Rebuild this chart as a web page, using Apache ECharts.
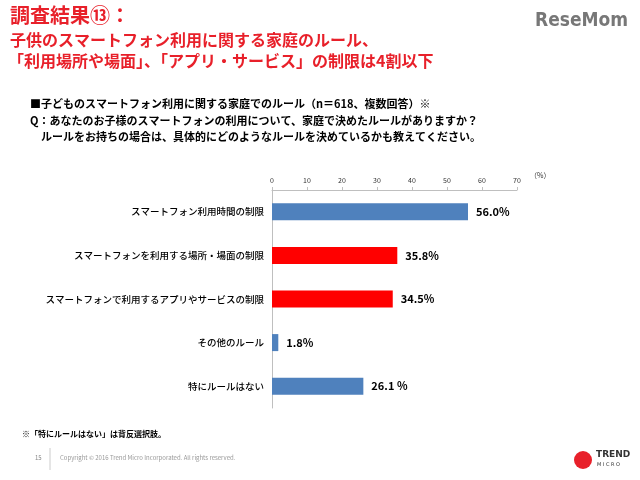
<!DOCTYPE html>
<html>
<head>
<meta charset="utf-8">
<script src="https://cdn.jsdelivr.net/npm/echarts@6/dist/echarts.min.js"></script>
<style>html,body{margin:0;padding:0;background:#fff}#main{width:640px;height:480px}</style>
</head>
<body>
<div id="main"></div>
<script>
var categories = ['スマートフォン利用時間の制限', 'スマートフォンを利用する場所・場面の制限', 'スマートフォンで利用するアプリやサービスの制限', 'その他のルール', '特にルールはない'];
var values = [56.0, 35.8, 34.5, 1.8, 26.1];
var valueLabels = ['56.0%', '35.8%', '34.5%', '1.8%', '26.1 %'];
var barColors = ['#4f81bd', '#ff0000', '#ff0000', '#4f81bd', '#4f81bd'];
var xTicks = [0, 10, 20, 30, 40, 50, 60, 70];

var font = '"Noto Sans CJK JP", sans-serif';
var chart = echarts.init(document.getElementById('main'));
var red = '#e8202a';

chart.setOption({
	backgroundColor: '#fff',
	textStyle: {fontFamily: font},
	grid: {left: 272, right: 123, top: 190, bottom: 72},
	xAxis: {
		type: 'value', position: 'top', min: xTicks[0], max: xTicks[xTicks.length - 1], interval: 10,
		axisLine: {show: true, lineStyle: {color: '#bfbfbf'}},
		axisTick: {show: true, length: 3, lineStyle: {color: '#bfbfbf'}},
		splitLine: {show: false},
		axisLabel: {fontSize: 7, color: '#333', margin: 6}
	},
	yAxis: {
		type: 'category', inverse: true, data: categories,
		axisLine: {show: true, lineStyle: {color: '#bfbfbf'}},
		axisTick: {show: false},
		axisLabel: {fontSize: 9.5, fontWeight: 500, color: '#000', margin: 8}
	},
	series: [{
		type: 'bar', barWidth: 17,
		data: values.map(function (v, i) {
			return {value: v, itemStyle: {color: barColors[i]}};
		}),
		label: {
			show: true, position: 'right', distance: 8, fontSize: 11, fontWeight: 'bold', color: '#000',
			formatter: function (p) { return valueLabels[p.dataIndex]; }
		}
	}],
	graphic: [
		{type: 'text', left: 10, top: 5, style: {text: '調査結果⑬：', font: 'bold 20px ' + font, fill: red}},
		{type: 'text', left: 10, top: 32, style: {text: '子供のスマートフォン利用に関する家庭のルール、', font: 'bold 16px ' + font, fill: red}},
		{type: 'text', left: 8, top: 53, style: {text: '「利用場所や場面」、「アプリ・サービス」の制限は4割以下', font: 'bold 16px ' + font, fill: red}},
		{type: 'text', left: 535, top: 12, style: {text: 'ReseMom', font: 'bold 19px "DejaVu Sans Condensed", sans-serif', fill: '#777'}},
		{type: 'text', left: 30, top: 98, style: {text: '■子どものスマートフォン利用に関する家庭でのルール（n＝618、複数回答）※', font: 'bold 11px ' + font, fill: '#000'}},
		{type: 'text', left: 30, top: 115, style: {text: 'Q：あなたのお子様のスマートフォンの利用について、家庭で決めたルールがありますか？', font: 'bold 11px ' + font, fill: '#000'}},
		{type: 'text', left: 30, top: 131, style: {text: '　ルールをお持ちの場合は、具体的にどのようなルールを決めているかも教えてください。', font: 'bold 11px ' + font, fill: '#000'}},
		{type: 'text', left: 530, top: 172, style: {text: '（%）', font: '7px ' + font, fill: '#333'}},
		{type: 'text', left: 22, top: 430, style: {text: '※「特にルールはない」は背反選択肢。', font: 'bold 8px ' + font, fill: '#000'}},
		{type: 'text', left: 35, top: 455, style: {text: '15', font: '6px ' + font, fill: '#888'}},
		{type: 'line', shape: {x1: 50, y1: 448, x2: 50, y2: 470}, style: {stroke: '#ccc'}},
		{type: 'text', left: 60, top: 455, style: {text: 'Copyright © 2016 Trend Micro Incorporated. All rights reserved.', font: '6px ' + font, fill: '#999'}},
		{type: 'circle', shape: {cx: 583, cy: 460, r: 9}, style: {fill: '#e8202a'}},
		{type: 'text', left: 596, top: 450, style: {text: 'TREND', font: 'bold 9px "DejaVu Sans", sans-serif', fill: '#333'}},
		{type: 'text', left: 597, top: 462, style: {text: 'M I C R O', font: '5px "DejaVu Sans", sans-serif', fill: '#333'}}
	]
});
</script>
</body>
</html>
